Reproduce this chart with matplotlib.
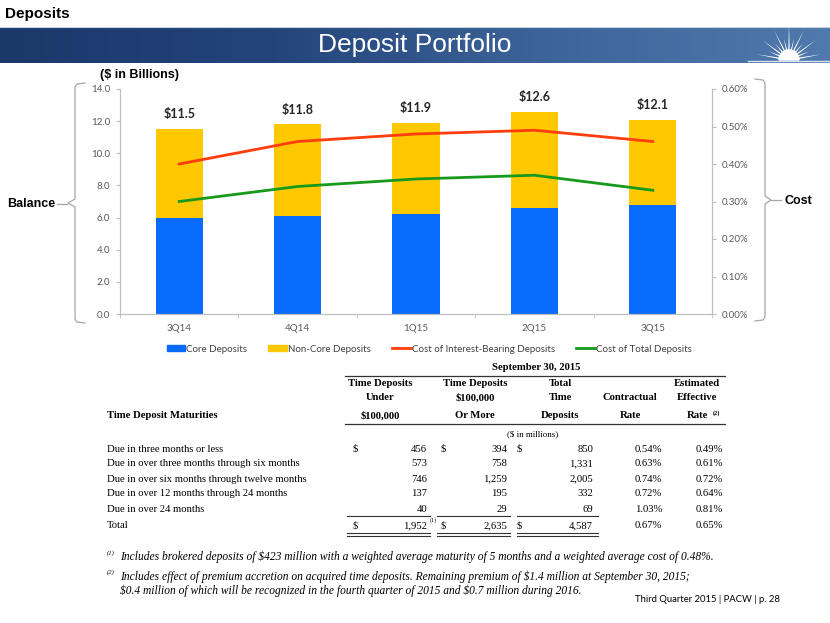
import numpy as np
import matplotlib
matplotlib.use("Agg")
import matplotlib.pyplot as plt
from matplotlib.colors import LinearSegmentedColormap
from matplotlib.patches import Polygon, Wedge, Patch
from matplotlib.lines import Line2D

# ---- chart data ----
quarters = ["3Q14", "4Q14", "1Q15", "2Q15", "3Q15"]
core = [6.0, 6.1, 6.2, 6.6, 6.8]
non_core = [5.5, 5.7, 5.7, 6.0, 5.3]
totals = [r"\$11.5", r"\$11.8", r"\$11.9", r"\$12.6", r"\$12.1"]
cost_ib = [0.40, 0.46, 0.48, 0.49, 0.46]
cost_total = [0.30, 0.34, 0.36, 0.37, 0.33]

# ---- table data ----
row_labels = ["Due in three months or less",
              "Due in over three months through six months",
              "Due in over six months through twelve months",
              "Due in over 12 months through 24 months",
              "Due in over 24 months",
              "Total"]
under_100k = [456, 573, 746, 137, 40, 1952]
over_100k = [394, 758, 1259, 195, 29, 2635]
total_time = [850, 1331, 2005, 332, 69, 4587]
contract_rate = [0.54, 0.63, 0.74, 0.72, 1.03, 0.67]
effective_rate = [0.49, 0.61, 0.72, 0.64, 0.81, 0.65]

W, H = 830, 623
fig = plt.figure(figsize=(W / 100, H / 100), dpi=100)

# overlay in pixel coords
ov = fig.add_axes([0, 0, 1, 1], zorder=0)
ov.set_xlim(0, W)
ov.set_ylim(H, 0)
ov.axis("off")
ov.patch.set_alpha(0)

sans = "Liberation Sans"
serif = "Liberation Serif"
cal = "Lato"

# header
ov.text(5, 14, "Deposits", fontsize=11, fontweight="bold", family=sans, va="center", ha="left")
cmap = LinearSegmentedColormap.from_list("ban", ["#1b386a", "#23457a", "#3e659b", "#5079ad"])
grad = np.linspace(0, 1, 256).reshape(1, -1)
ov.imshow(grad, cmap=cmap, extent=[0, W, 63, 27], aspect="auto", zorder=1)
ov.plot([0, W], [27, 27], color="#c9d3e0", lw=0.8, zorder=2)
ov.text(415, 45, "Deposit Portfolio", fontsize=19, color="white", family=sans,
        ha="center", va="center", zorder=3)

# sunburst logo
cx, cy = 789, 60
angles = np.linspace(10, 170, 13)
for i, a in enumerate(angles):
    r = 33 if i % 2 == 0 else 22
    if i == 6:
        r = 36
    t = np.radians(a)
    dt = np.radians(6.5)
    pts = [(cx + 7 * np.cos(t - dt), cy - 7 * np.sin(t - dt)),
           (cx + r * np.cos(t), cy - r * np.sin(t)),
           (cx + 7 * np.cos(t + dt), cy - 7 * np.sin(t + dt))]
    ov.add_patch(Polygon(pts, closed=True, color="white", zorder=4, lw=0))
ov.add_patch(Wedge((cx, cy), 10, 180, 360, color="white", zorder=4))
ov.plot([748, 830], [61, 61], color="white", lw=1, zorder=4, alpha=0.8)

# ---- chart ----
x = np.arange(len(quarters))
ax = fig.add_axes([120 / W, 1 - 314 / H, 592 / W, 225 / H], zorder=2)
ax.patch.set_alpha(0)
bar_w = 0.4
ax.bar(x, core, bar_w, color="#0a6bff", zorder=2)
ax.bar(x, non_core, bar_w, bottom=core, color="#ffc800", zorder=2)
for xi, c, n, lab in zip(x, core, non_core, totals):
    ax.text(xi, c + n + 0.55, lab, ha="center", va="bottom", fontsize=9,
            fontweight="bold", family=cal, color="#262626")
ax.set_xlim(-0.5, len(quarters) - 0.5)
ax.set_ylim(0, 14)
ax.set_yticks(np.arange(0, 14.1, 2))
ax.set_yticklabels(["%.1f" % v for v in np.arange(0, 14.1, 2)])
ax.set_xticks(x)
ax.set_xticklabels(quarters)
ax.set_xticks(np.arange(-0.5, len(quarters), 1), minor=True)
ax.tick_params(axis="x", which="major", length=0, pad=7)
ax.tick_params(axis="x", which="minor", length=3, color="#bfbfbf")
ax.tick_params(axis="y", length=3, color="#bfbfbf", pad=4)
ax.tick_params(labelsize=7, labelcolor="#595959")
for lab in ax.get_xticklabels() + ax.get_yticklabels():
    lab.set_family(cal)
ax.spines["top"].set_visible(False)
for s in ["left", "bottom", "right"]:
    ax.spines[s].set_color("#bfbfbf")
    ax.spines[s].set_linewidth(0.8)

ax2 = ax.twinx()
ax2.plot(x, cost_ib, color="#ff3d0d", lw=2, zorder=3)
ax2.plot(x, cost_total, color="#17991b", lw=2, zorder=3)
ax2.set_ylim(0, 0.6)
ax2.set_yticks(np.arange(0, 0.61, 0.1))
ax2.set_yticklabels(["%.2f%%" % v for v in np.arange(0, 0.61, 0.1)])
ax2.tick_params(axis="y", length=3, color="#bfbfbf", labelsize=7, labelcolor="#595959", pad=4)
for lab in ax2.get_yticklabels():
    lab.set_family(cal)
ax2.spines["top"].set_visible(False)
for s in ["left", "bottom", "right"]:
    ax2.spines[s].set_color("#bfbfbf")
    ax2.spines[s].set_linewidth(0.8)

handles = [Patch(color="#0a6bff"), Patch(color="#ffc800"),
           Line2D([], [], color="#ff3d0d", lw=2), Line2D([], [], color="#17991b", lw=2)]
names = ["Core Deposits", "Non-Core Deposits", "Cost of Interest-Bearing Deposits", "Cost of Total Deposits"]
fig.legend(handles, names, loc="center", bbox_to_anchor=(429 / W, 1 - 349 / H), ncol=4,
           frameon=False, prop={"family": cal, "size": 7}, handlelength=1.9, handleheight=0.55,
           handletextpad=0.1, columnspacing=2.2, labelcolor="#404040")

# braces
bc = "#a6a6a6"
ov.plot([85, 77, 75, 75, 68, 75, 75, 77, 85],
        [83, 84, 87, 199, 203, 207, 319, 322, 323], color=bc, lw=0.9, zorder=5)
ov.plot([57, 67], [204, 204], color=bc, lw=0.9)
ov.text(55, 204, "Balance", fontsize=9, fontweight="bold", family=sans, ha="right", va="center")
ov.plot([755, 763, 765, 765, 771, 765, 765, 763, 755],
        [79, 80, 83, 196, 200, 204, 317, 320, 321], color=bc, lw=0.9, zorder=5)
ov.plot([771, 781], [200, 200], color=bc, lw=0.9)
ov.text(784, 201, "Cost", fontsize=9, fontweight="bold", family=sans, ha="left", va="center")
ov.text(139, 75, r"(\$ in Billions)", fontsize=9, fontweight="bold", family=sans, ha="center", va="center")

# ---- table ----
tf = 7.7
lc = "#333333"
ov.text(536, 368, "September 30, 2015", fontsize=tf, fontweight="bold", family=serif, ha="center", va="center")
ov.plot([345, 725], [376, 376], color=lc, lw=0.9)
heads = [(380, ["Time Deposits", "Under", r"\$100,000"]),
         (475, ["Time Deposits", r"\$100,000", "Or More"]),
         (560, ["Total", "Time", "Deposits"]),
         (630, ["", "Contractual", "Rate"]),
         (697, ["Estimated", "Effective", "Rate"])]
for hx, lines in heads:
    for hy, t in zip([383, 398, 416], lines):
        ov.text(hx, hy, t, fontsize=tf, fontweight="bold", family=serif, ha="center", va="center")
ov.text(713, 413, "(2)", fontsize=4.5, fontweight="bold", family=serif, ha="left", va="center")
ov.text(107, 416, "Time Deposit Maturities", fontsize=tf, fontweight="bold", family=serif, ha="left", va="center")
ov.plot([345, 725], [424, 424], color=lc, lw=0.9)
ov.text(533, 434, r"(\$ in millions)", fontsize=6.5, family=serif, ha="center", va="center")

row_y = [449, 464, 479, 494, 509, 526]
for i, y in enumerate(row_y):
    ov.text(107, y, row_labels[i], fontsize=tf, family=serif, ha="left", va="center")
    ov.text(427, y, "{:,}".format(under_100k[i]), fontsize=tf, family=serif, ha="right", va="center")
    ov.text(507, y, "{:,}".format(over_100k[i]), fontsize=tf, family=serif, ha="right", va="center")
    ov.text(593, y, "{:,}".format(total_time[i]), fontsize=tf, family=serif, ha="right", va="center")
    ov.text(662, y, "%.2f%%" % contract_rate[i], fontsize=tf, family=serif, ha="right", va="center")
    ov.text(723, y, "%.2f%%" % effective_rate[i], fontsize=tf, family=serif, ha="right", va="center")
    if i in (0, len(row_y) - 1):
        for sx in (355, 443, 519):
            ov.text(sx, y, r"\$", fontsize=tf, family=serif, ha="center", va="center")
ov.text(430, 520, "(1)", fontsize=4.5, family=serif, ha="left", va="center")
for x0, x1 in [(347, 430), (437, 510), (517, 598)]:
    ov.plot([x0, x1], [516, 516], color=lc, lw=0.8)
    ov.plot([x0, x1], [533, 533], color=lc, lw=0.8)
    ov.plot([x0, x1], [535.5, 535.5], color=lc, lw=0.8)

# footnotes
ff = 8.3
ov.text(107, 553, "(1)", fontsize=4.8, style="italic", family=serif, ha="left", va="center")
ov.text(120, 557, r"Includes brokered deposits of \$423 million with a weighted average maturity of 5 months "
        "and a weighted average cost of 0.48%.", fontsize=ff, style="italic", family=serif, ha="left", va="center")
ov.text(107, 572, "(2)", fontsize=4.8, style="italic", family=serif, ha="left", va="center")
ov.text(120, 577, r"Includes effect of premium accretion on acquired time deposits. Remaining premium of \$1.4 million "
        "at September 30, 2015;", fontsize=ff, style="italic", family=serif, ha="left", va="center")
ov.text(120, 591, r"\$0.4 million of which will be recognized in the fourth quarter of 2015 and \$0.7 million "
        "during 2016.", fontsize=ff, style="italic", family=serif, ha="left", va="center")
ov.text(780, 600, "Third Quarter 2015 | PACW | p. 28", fontsize=6.8, family=cal, ha="right", va="center")

fig.savefig("out.png", dpi=100)
